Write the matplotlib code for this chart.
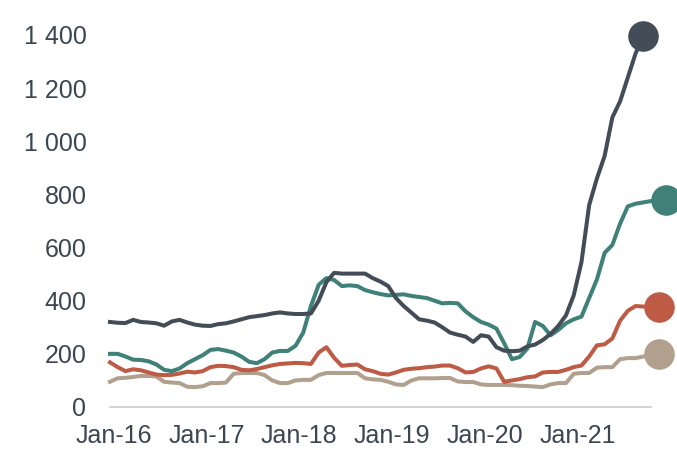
import matplotlib.pyplot as plt
import numpy as np

# monthly values starting Jan-16
dark = [320, 317, 316, 328, 320, 318, 315, 306, 322, 328, 318, 310,
        306, 305, 312, 315, 322, 330, 338, 342, 346, 352, 356, 352,
        350, 350, 352, 400, 470, 505, 502, 502, 502, 502, 485, 472,
        455, 410, 380, 355, 330, 325, 318, 300, 280, 272, 265, 245,
        270, 265, 225, 212, 210, 212, 228, 235, 252, 275, 305, 345,
        420, 545, 760, 860, 945, 1090, 1150, 1240, 1330, 1396]
green = [200, 200, 190, 178, 177, 172, 160, 140, 135, 145, 165, 180,
         195, 215, 218, 212, 205, 190, 170, 165, 180, 205, 211, 211,
         230, 280, 380, 460, 485, 478, 455, 458, 455, 440, 432, 425,
         420, 422, 424, 418, 414, 410, 400, 390, 392, 390, 360, 338,
         320, 310, 295, 240, 180, 188, 220, 320, 305, 270, 290, 315,
         330, 340, 410, 480, 580, 610, 690, 755, 765, 770, 775, 778, 780]
red = [168, 150, 135, 142, 138, 130, 122, 120, 121, 126, 133, 130,
       135, 150, 155, 154, 150, 140, 138, 143, 150, 157, 162, 164,
       166, 165, 162, 205, 225, 185, 155, 158, 160, 142, 135, 125,
       122, 130, 140, 144, 146, 150, 152, 156, 156, 146, 130, 132,
       145, 153, 145, 95, 100, 105, 112, 115, 130, 132, 132, 140,
       150, 156, 190, 232, 236, 258, 325, 362, 380, 378, 377, 376]
tan = [95, 108, 110, 113, 117, 117, 115, 95, 92, 90, 76, 75,
       78, 90, 90, 92, 125, 128, 128, 128, 120, 100, 90, 90,
       100, 102, 102, 120, 128, 128, 128, 128, 128, 108, 104, 102,
       95, 85, 83, 100, 108, 108, 108, 109, 109, 96, 94, 94,
       85, 83, 83, 83, 82, 80, 79, 77, 75, 85, 90, 90,
       125, 128, 128, 148, 150, 150, 180, 184, 184, 190, 196, 199]

xlabels = ['Jan-16', 'Jan-17', 'Jan-18', 'Jan-19', 'Jan-20', 'Jan-21']
yticks = [0, 200, 400, 600, 800, 1000, 1200, 1400]
ylabels = ['0', '200', '400', '600', '800', '1 000', '1 200', '1 400']

plt.rcParams['font.family'] = ['Liberation Sans', 'DejaVu Sans']

fig = plt.figure(figsize=(6.77, 4.51), dpi=100)
ax = fig.add_axes([110 / 677, 44 / 451, 541 / 677, 372 / 451])

series = [(tan, '#b1a08d'), (red, '#bd5b45'), (green, '#3f8178'), (dark, '#434c57')]
for vals, col in series:
    x = np.arange(len(vals))
    ax.plot(x, vals, color=col, lw=2.9, clip_on=False)
    ax.plot(x[-1], vals[-1], 'o', color=col, ms=21, clip_on=False)

ax.set_xlim(0, 70)
ax.set_ylim(0, 1400)
ax.set_xticks(np.arange(len(xlabels)) * 12 + 0.5)
ax.set_xticklabels(xlabels)
ax.set_yticks(yticks)
ax.set_yticklabels(ylabels)
ax.tick_params(length=0, labelsize=18, colors='#3c4652')
ax.tick_params(axis='y', pad=17)
ax.tick_params(axis='x', pad=12)

for s in ['top', 'right', 'left']:
    ax.spines[s].set_visible(False)
ax.spines['bottom'].set_color('#d0d0d0')
ax.spines['bottom'].set_linewidth(1.3)

fig.savefig('out.png', dpi=100)
